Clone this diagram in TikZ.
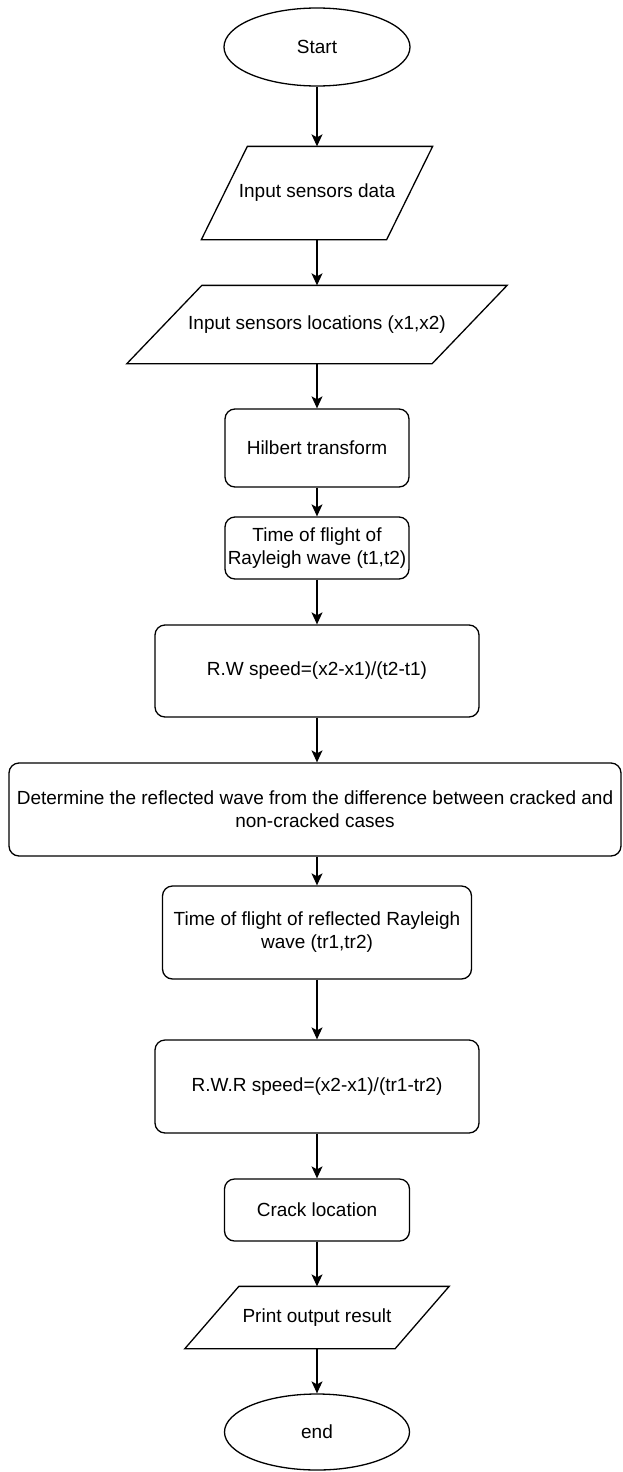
\documentclass[tikz,border=0pt]{standalone}
\usepackage{fontspec}
\setmainfont{Liberation Sans}
\usetikzlibrary{shapes.geometric,arrows.meta}

\begin{document}
\begin{tikzpicture}[x=1pt,y=-1pt,line width=1.3pt,
  >={Stealth[length=12pt,width=11pt,inset=3pt]},
  font=\fontsize{19}{23}\selectfont,
  every node/.style={inner sep=0pt,align=center},
  termbox/.style={draw,ellipse,minimum width=186pt,minimum height=78pt},
  procbox/.style={draw,rectangle,rounded corners=10pt},
  iobox/.style={rectangle}]
\useasboundingbox (0,0) rectangle (622,1472);

\node[termbox] (start) at (317,47) {Start};

\node[iobox,minimum width=184pt,minimum height=92pt] (indata) at (317,193)
  {Input sensors data};
\draw ([xshift=23pt]indata.north west) -- ([xshift=23pt]indata.north east)
  -- ([xshift=-23pt]indata.south east) -- ([xshift=-23pt]indata.south west)
  -- cycle;

\node[iobox,minimum width=304pt,minimum height=77pt] (inloc) at (317,324.5)
  {Input sensors locations (x1,x2)};
\draw ([xshift=37.5pt]inloc.north west) -- ([xshift=37.5pt]inloc.north east)
  -- ([xshift=-37.5pt]inloc.south east) -- ([xshift=-37.5pt]inloc.south west)
  -- cycle;

\node[procbox,minimum width=184pt,minimum height=78pt] (hilbert) at (317,448)
  {Hilbert transform};
\node[procbox,minimum width=184pt,minimum height=62pt] (tof) at (317,548)
  {Time of flight of\\Rayleigh wave (t1,t2)};
\node[procbox,minimum width=324pt,minimum height=92pt] (rwspeed) at (317,671)
  {R.W speed=(x2-x1)/(t2-t1)};
\node[procbox,minimum width=612pt,minimum height=93pt] (determ) at (315,809.5)
  {Determine the reflected wave from the difference between cracked and\\non-cracked cases};
\node[procbox,minimum width=309pt,minimum height=93pt] (tofr) at (317,932.5)
  {Time of flight of reflected Rayleigh\\wave (tr1,tr2)};
\node[procbox,minimum width=324pt,minimum height=93pt] (rwrspeed) at (317,1086.5)
  {R.W.R speed=(x2-x1)/(tr1-tr2)};
\node[procbox,minimum width=185pt,minimum height=62pt] (crack) at (317,1210)
  {Crack location};

\node[iobox,minimum width=209pt,minimum height=61pt] (print) at (317,1317.5)
  {Print output result};
\draw ([xshift=27pt]print.north west) -- ([xshift=27pt]print.north east)
  -- ([xshift=-27pt]print.south east) -- ([xshift=-27pt]print.south west)
  -- cycle;

\node[termbox,minimum width=185pt,minimum height=76pt] (stop) at (317,1432) {end};

\draw[->] (start.south) -- (indata.north);
\draw[->] (indata.south) -- (inloc.north);
\draw[->] (inloc.south) -- (hilbert.north);
\draw[->] (hilbert.south) -- (tof.north);
\draw[->] (tof.south) -- (rwspeed.north);
\draw[->] (rwspeed.south) -- (rwspeed.south |- determ.north);
\draw[->] (rwspeed.south |- determ.south) -- (tofr.north);
\draw[->] (tofr.south) -- (rwrspeed.north);
\draw[->] (rwrspeed.south) -- (crack.north);
\draw[->] (crack.south) -- (print.north);
\draw[->] (print.south) -- (stop.north);

\end{tikzpicture}
\end{document}
